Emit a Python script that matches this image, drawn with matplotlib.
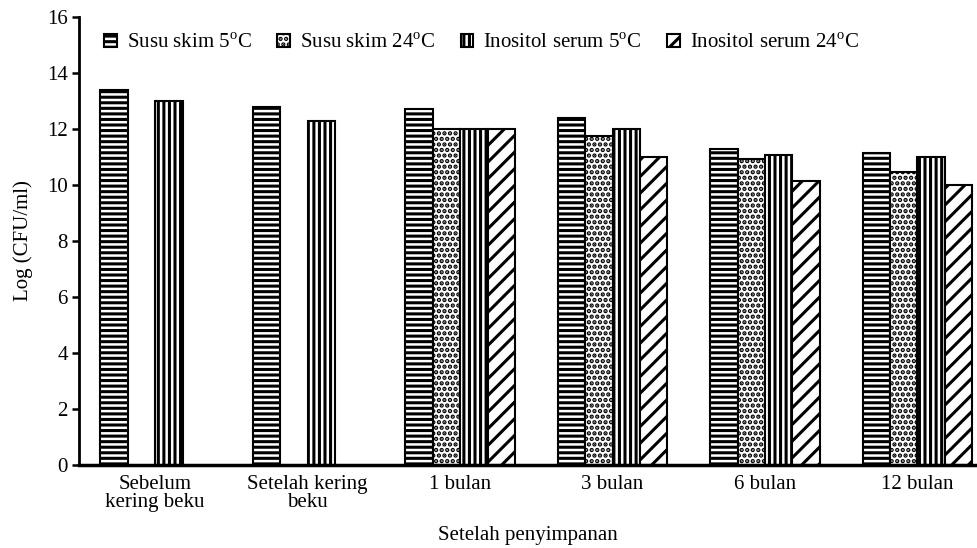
"""Viabilitas sel selama penyimpanan (Log CFU/ml) per bahan pelindung dan suhu."""

import matplotlib
matplotlib.use("Agg")
import matplotlib.pyplot as plt
import numpy as np

plt.rcParams["font.family"] = ["Liberation Serif", "DejaVu Serif"]
plt.rcParams["mathtext.fontset"] = "custom"
plt.rcParams["mathtext.rm"] = "Liberation Serif"
plt.rcParams["hatch.linewidth"] = 2.2
plt.rcParams["hatch.color"] = "black"

categories = ["Sebelum\nkering beku", "Setelah kering\nbeku", "1 bulan", "3 bulan", "6 bulan", "12 bulan"]
series_labels = [
    r"Susu skim 5$^\mathregular{o}$C",
    r"Susu skim 24$^\mathregular{o}$C",
    r"Inositol serum 5$^\mathregular{o}$C",
    r"Inositol serum 24$^\mathregular{o}$C",
]
susu_skim_5 = [13.4, 12.8, 12.7, 12.4, 11.3, 11.15]
susu_skim_24 = [np.nan, np.nan, 12.0, 11.75, 10.92, 10.45]
inositol_5 = [13.0, 12.3, 12.0, 12.0, 11.07, 11.0]
inositol_24 = [np.nan, np.nan, 12.0, 11.0, 10.15, 10.0]
yticks = [0, 2, 4, 6, 8, 10, 12, 14, 16]

hatches = ["---", "...", "|||", "//"]
FS = 15

fig = plt.figure(figsize=(9.78, 5.48), dpi=100)
ax = fig.add_axes([0.0808, 0.1515, 0.918, 0.8175])

x = np.arange(len(categories))
width = 0.18
all_series = [susu_skim_5, susu_skim_24, inositol_5, inositol_24]
for i, (vals, label, hatch) in enumerate(zip(all_series, series_labels, hatches)):
    ax.bar(
        x + (i - 1.5) * width,
        vals,
        width,
        label=label,
        facecolor="white",
        edgecolor="black",
        linewidth=1.5,
        hatch=hatch,
    )

ax.set_xlim(-0.5, 5.39)
ax.set_ylim(0, 16)
ax.set_yticks(yticks)
ax.set_xticks(x)
ax.set_xticklabels(categories, fontsize=FS, linespacing=0.95)
ax.tick_params(axis="x", length=0, pad=7)
ax.tick_params(axis="y", direction="out", length=5, width=1.8, labelsize=FS, pad=3)
ax.spines["top"].set_visible(False)
ax.spines["right"].set_visible(False)
ax.spines["left"].set_linewidth(2.0)
ax.spines["bottom"].set_linewidth(2.5)

ax.set_ylabel("Log (CFU/ml)", fontsize=FS, labelpad=10)
ax.set_xlabel("Setelah penyimpanan", fontsize=FS, labelpad=10)

ax.legend(
    loc="upper left",
    bbox_to_anchor=(0.012, 0.995),
    ncol=4,
    frameon=False,
    fontsize=FS,
    handlelength=0.6,
    handleheight=0.6,
    handletextpad=0.5,
    columnspacing=1.2,
    borderaxespad=0.3,
)

fig.savefig("out.png", dpi=100)
